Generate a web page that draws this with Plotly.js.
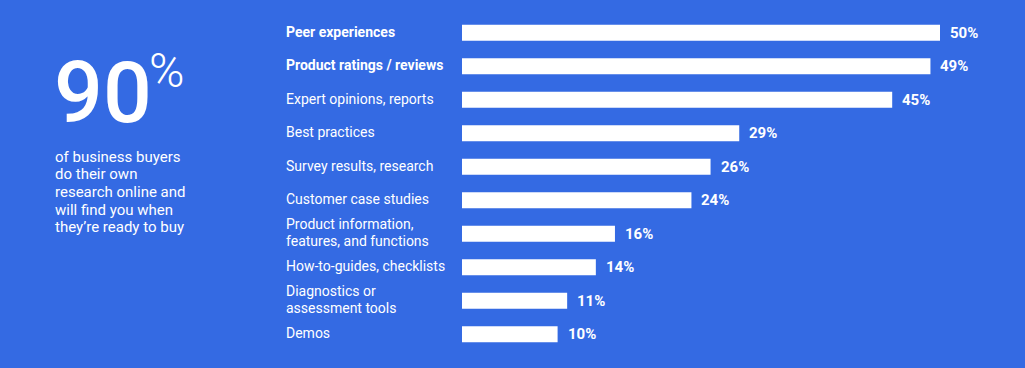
<!DOCTYPE html>
<html>
<head>
<meta charset="utf-8">
<script src="https://cdn.plot.ly/plotly-3.0.1.min.js"></script>
<style>
html,body{margin:0;padding:0;background:#346AE3;}
#chart{width:1025px;height:368px;}
</style>
</head>
<body>
<div id="chart"></div>
<script>
const categories = [
  "Peer experiences",
  "Product ratings / reviews",
  "Expert opinions, reports",
  "Best practices",
  "Survey results, research",
  "Customer case studies",
  "Product information,<br>features, and functions",
  "How-to-guides, checklists",
  "Diagnostics or<br>assessment tools",
  "Demos"
];
const values = [50, 49, 45, 29, 26, 24, 16, 14, 11, 10];
const boldLabels = [true, true, false, false, false, false, false, false, false, false];
const headlineNumber = "90";
const headlineUnit = "%";
const headlineLines = ["of business buyers", "do their own", "research online and", "will find you when", "they’re ready to buy"];

const BG = "#346AE3";
const FONT = "Roboto, 'Open Sans', sans-serif";

const W = 1025, H = 368;
const margin = {l: 462, r: 25, t: 16, b: 17};
const plotW = W - margin.l - margin.r;
const plotH = H - margin.t - margin.b;
const px2x = px => (px - margin.l) / plotW;
const px2y = py => (H - margin.b - py) / plotH;

const trace = {
  type: "bar",
  orientation: "h",
  x: values,
  y: categories,
  width: 0.48,
  marker: {color: "#ffffff", line: {width: 0}},
  hoverinfo: "none",
  cliponaxis: false
};

const annotations = [];
categories.forEach((c, i) => {
  const lines = c.split("<br>");
  const lh = 17;
  lines.forEach((ln, j) => {
    annotations.push({
      xref: "paper", yref: "y",
      x: px2x(284), y: c,
      xanchor: "left", yanchor: "middle", align: "left",
      yshift: -((j - (lines.length - 1) / 2) * lh) + 1,
      text: boldLabels[i] ? "<b>" + ln + "</b>" : ln,
      showarrow: false,
      font: {family: FONT, size: 14, color: "#ffffff"}
    });
  });
  annotations.push({
    xref: "x", yref: "y",
    x: values[i], y: c,
    xanchor: "left", yanchor: "middle",
    xshift: 8,
    text: "<b>" + values[i] + "%</b>",
    showarrow: false,
    font: {family: FONT, size: 15, color: "#ffffff"}
  });
});

annotations.push({
  xref: "paper", yref: "paper",
  x: px2x(52), y: px2y(92),
  xanchor: "left", yanchor: "middle",
  text: headlineNumber, showarrow: false,
  font: {family: FONT, size: 86, color: "#ffffff", weight: 500}
});
annotations.push({
  xref: "paper", yref: "paper",
  x: px2x(147), y: px2y(70),
  xanchor: "left", yanchor: "middle",
  text: headlineUnit, showarrow: false,
  font: {family: FONT, size: 48, color: "#ffffff", weight: 300}
});
headlineLines.forEach((ln, j) => {
  annotations.push({
    xref: "paper", yref: "paper",
    x: px2x(53), y: px2y(157 + j * 17.5),
    xanchor: "left", yanchor: "middle", align: "left",
    text: ln, showarrow: false,
    font: {family: FONT, size: 15, color: "#ffffff"}
  });
});

const layout = {
  width: W, height: H,
  margin: margin,
  paper_bgcolor: BG,
  plot_bgcolor: BG,
  showlegend: false,
  xaxis: {range: [0, plotW / 9.56], visible: false, fixedrange: true},
  yaxis: {autorange: "reversed", visible: false, fixedrange: true, type: "category"},
  annotations: annotations,
  bargap: 0.52
};

Plotly.newPlot("chart", [trace], layout, {displayModeBar: false, staticPlot: true});
</script>
</body>
</html>
